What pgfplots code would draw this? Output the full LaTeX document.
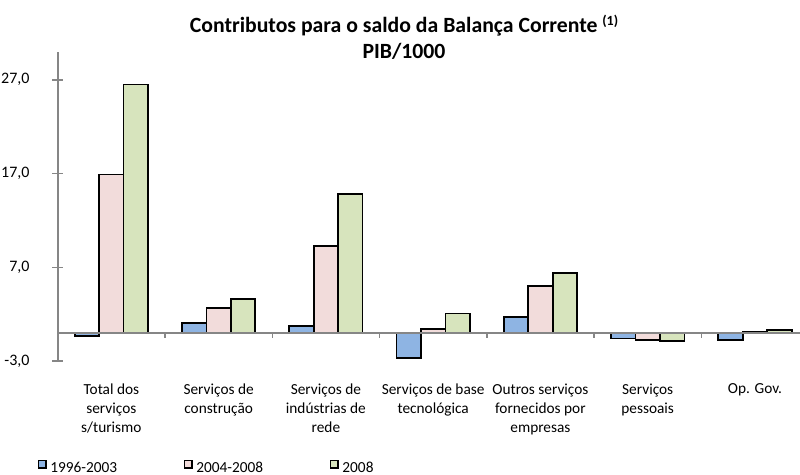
\documentclass[border=0pt]{standalone}
\usepackage{pgfplots}
\pgfplotsset{compat=1.18}
\usepackage{fontspec}
\setmainfont{Carlito}
\definecolor{cblue}{RGB}{142,180,227}
\definecolor{cpink}{RGB}{242,220,219}
\definecolor{cgreen}{RGB}{215,228,189}
\definecolor{axisgray}{RGB}{134,134,134}
\begin{document}
\begin{tikzpicture}
\path[use as bounding box] (0,0) rectangle (600pt,356.25pt);
\node[align=center, font=\bfseries\fontsize{16.3}{20}\selectfont, anchor=base] at (303pt,312pt)
  {Contributos para o saldo da Balança Corrente {\fontsize{10.5}{12}\selectfont\raisebox{0.5em}{(1)}}\\PIB/1000};
\begin{axis}[
  at={(43.3pt,85.5pt)}, anchor=south west,
  scale only axis,
  width=556.7pt, height=232pt,
  xmin=-0.5, xmax=6.42,
  ymin=-3, ymax=30,
  ybar=0pt, bar width=0.228,
  axis x line*=bottom,
  axis y line*=left,
  x axis line style={draw=none},
  y axis line style={draw=axisgray, line width=1.3pt, -},
  xtick={0,1,2,3,4,5,6},
  xticklabels={{Total dos\\serviços\\s/turismo},{Serviços de\\construção},{Serviços de\\indústrias de\\rede},{Serviços de base\\tecnológica},{Outros serviços\\fornecidos por\\empresas},{Serviços\\pessoais},{Op. Gov.}},
  xtick style={draw=none},
  xticklabel style={align=center, font=\fontsize{11.5}{14.25}\selectfont, anchor=north, inner sep=0pt, yshift=-13pt},
  ytick={-3,7,17,27},
  tick align=center,
  major tick length=8pt,
  ytick style={draw=axisgray, line width=1.1pt},
  yticklabel style={font=\fontsize{12}{14}\selectfont, inner sep=0pt, anchor=east, xshift=-17pt,
    /pgf/number format/.cd, fixed, fixed zerofill, precision=1, use comma, assume math mode=true},
  legend columns=3,
  legend image code/.code={\draw[#1, draw=black, line width=1.2pt] (0pt,0.4pt) rectangle (5.4pt,5.8pt);},
  legend style={at={(-0.0269,-0.367)}, anchor=south west, draw=none, fill=none, inner sep=0pt, outer sep=0pt,
    font=\fontsize{11.5}{14}\selectfont,
    nodes={inner sep=0pt},
    /tikz/every odd column/.append style={column sep=2.8pt},
    /tikz/every even column/.append style={column sep=50pt}},
  every axis plot/.append style={draw=black, line width=1.3pt},
  clip=false,
]
\addplot[fill=cblue] coordinates {(0,-0.35) (1,1.03) (2,0.7) (3,-2.67) (4,1.68) (5,-0.6) (6,-0.75)};
\addplot[fill=cpink] coordinates {(0,16.9) (1,2.67) (2,9.3) (3,0.4) (4,5.0) (5,-0.75) (6,0.15)};
\addplot[fill=cgreen] coordinates {(0,26.5) (1,3.6) (2,14.8) (3,2.07) (4,6.4) (5,-0.9) (6,0.3)};
\legend{1996-2003,2004-2008,2008}
\draw[axisgray, line width=1.3pt] (axis cs:-0.5,0) -- (axis cs:6.42,0);
\pgfplotsinvokeforeach{0.5,1.5,2.5,3.5,4.5,5.5}{\draw[axisgray, line width=1.1pt] (axis cs:#1,0) -- ([yshift=-3.5pt]axis cs:#1,0);}
\end{axis}
\end{tikzpicture}
\end{document}
